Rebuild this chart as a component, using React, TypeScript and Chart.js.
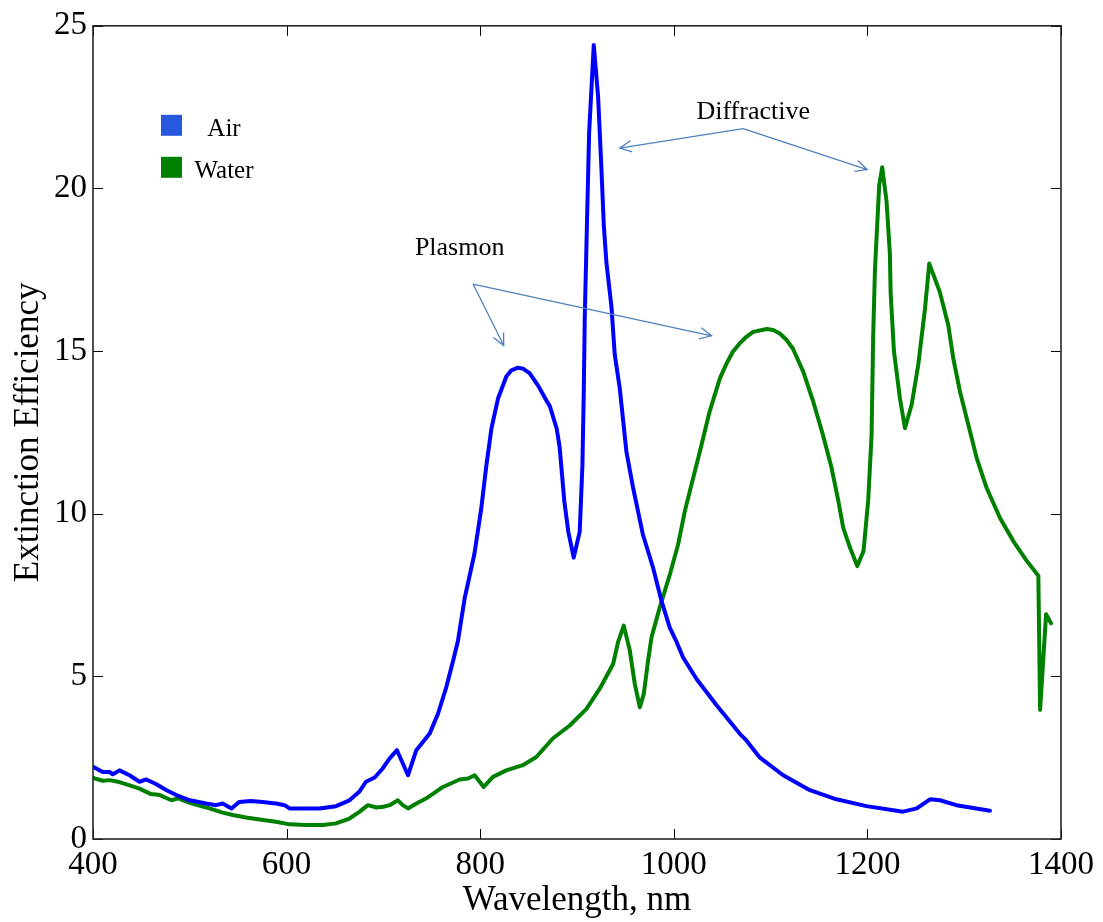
import { useEffect, useRef } from "react";
import { Chart, registerables } from "chart.js";

Chart.register(...registerables);

// Extinction spectrum of the array in air (nm, efficiency)
const airWavelength = [
  400, 410, 417, 420.5, 427.4, 437.7, 448, 455, 465, 476, 486, 500, 517, 527, 534, 543, 551, 563, 575, 589,
  598, 603, 620, 634, 651, 665, 675, 682, 691, 699, 706.5, 714, 718.6, 725.4, 734, 747.8, 756.4, 765, 772, 777,
  784, 794, 801, 806.4, 811.6, 818.4, 827, 832.2, 839, 844.2, 851, 860, 868.4, 872, 879, 882, 887, 891, 896.6, 902.8, 905.6,
  907, 908, 909.8, 912.5, 917.3, 921.8, 925.3, 927.7, 930.4, 935.6, 939, 944.2, 951, 958, 968, 978.6, 987.3,
  995.8, 1003, 1009.6, 1023.5, 1044, 1068, 1075, 1089, 1113, 1140.6, 1168, 1199, 1237, 1251, 1264.6, 1275,
  1292, 1326.6,
];
const airEfficiency = [
  2.22, 2.06, 2.06, 1.99, 2.11, 1.96, 1.76, 1.83, 1.69, 1.5, 1.35, 1.19, 1.09, 1.04, 1.09, 0.94, 1.14, 1.17, 1.14, 1.09,
  1.04, 0.94, 0.94, 0.94, 1.01, 1.19, 1.45, 1.76, 1.89, 2.16, 2.48, 2.73, 2.42, 1.96, 2.73, 3.24, 3.85, 4.67, 5.48, 6.09,
  7.41, 8.76, 10.14, 11.49, 12.62, 13.54, 14.22, 14.41, 14.49, 14.46, 14.32, 13.93, 13.48, 13.3, 12.62, 12.06, 10.36, 9.45, 8.65, 9.45, 11.49,
  13.76, 16.02, 18.29, 21.69, 24.41, 22.82, 20.56, 18.86, 17.72, 16.36, 14.89, 13.85, 11.92, 10.79, 9.37, 8.34, 7.32,
  6.5, 6.05, 5.58, 4.92, 4.12, 3.24, 3.03, 2.5, 1.96, 1.5, 1.22, 1.01, 0.84, 0.94, 1.22, 1.19,
  1.04, 0.87,
];

// Extinction spectrum of the array in water (nm, efficiency)
const waterWavelength = [
  400, 410, 417, 427, 438, 448, 460, 469, 481, 488, 500, 517, 534, 544.5, 558, 572, 589, 603, 620, 637.5,
  651, 665, 675.5, 684, 692.7, 700, 706.5, 715, 720, 725.4, 734, 744.4, 761.5, 778.8, 787.4, 794.3, 803.6, 813.2,
  827, 844, 858, 875, 892.5, 909.8, 923.5, 937.3, 942.4, 948.3, 954.5, 959.7, 964.9, 969, 973.4, 977, 985.5,
  996, 1004.5, 1011.4, 1018.3, 1027, 1037, 1047.6, 1054.5, 1061, 1068.2, 1075, 1082, 1096, 1102.6, 1109.6, 1116.5,
  1123, 1133.7, 1144, 1154, 1163,
  1170, 1175, 1182, 1189.5, 1196, 1200.8, 1204.3, 1206, 1207.8, 1212.2, 1215.3, 1219.8, 1223.2, 1224, 1227.4,
  1233.6, 1238.8, 1245.7, 1252.5, 1259.5, 1263.9, 1274.8, 1283.5, 1288.7, 1295.6, 1302.5, 1312.9, 1323.2, 1337,
  1350.7, 1364.6, 1376.6, 1378.4, 1384.6, 1389.7,
];
const waterEfficiency = [
  1.88, 1.79, 1.81, 1.75, 1.65, 1.55, 1.38, 1.35, 1.19, 1.25, 1.11, 0.97, 0.81, 0.74, 0.66, 0.6, 0.53, 0.45, 0.43, 0.43,
  0.48, 0.63, 0.84, 1.04, 0.97, 0.99, 1.04, 1.19, 1.04, 0.94, 1.09, 1.25, 1.6, 1.83, 1.86, 1.96, 1.6, 1.91,
  2.11, 2.27, 2.52, 3.09, 3.49, 4.0, 4.62, 5.38, 6.05, 6.56, 5.8, 4.77, 4.05, 4.46, 5.48, 6.2, 7.12,
  8.14, 9.06, 10.08, 10.9, 11.92, 13.14, 14.16, 14.62, 14.98, 15.24, 15.44, 15.59, 15.68, 15.65, 15.54, 15.34,
  15.08, 14.37, 13.45, 12.43, 11.41,
  10.39, 9.57, 8.96, 8.39, 8.85, 10.4, 12.4, 15.5, 17.5, 20.1, 20.65, 19.6, 18.0, 16.8, 15.0,
  13.55, 12.63, 13.35, 14.57, 16.3, 17.69, 16.82, 15.8, 14.78, 13.76, 12.94, 11.71, 10.79, 9.87,
  9.16, 8.55, 8.09, 3.97, 6.91, 6.63,
];

const xTickValues = [400, 600, 800, 1000, 1200, 1400];
const yTickValues = [0, 5, 10, 15, 20, 25];
const seriesNames = ["Air", "Water"];

const lineColors = ["#0000ff", "#008000"];
const swatchColors = ["#2659e0", "#008000"];
const arrowColor = "#4f81bd";
const serif = "'Liberation Serif', 'Times New Roman', serif";

// Callout labels with the data points their arrows start from and point to
const callouts = [
  { text: "Diffractive", at: [1082, 22.15], from: [1071.6, 21.84], to: [[944.2, 21.24], [1199.8, 20.58]] },
  { text: "Plasmon", at: [778.8, 17.96], from: [792.6, 17.06], to: [[824.3, 15.17], [1039, 15.47]] },
];

const framePlugin = {
  id: "frameTicksLegendCallouts",
  afterDraw(chart: any) {
    const { ctx, chartArea: ca, scales } = chart;
    const xs = scales.x;
    const ys = scales.y;
    ctx.save();

    // Inward tick marks on all four sides
    const tl = 10;
    ctx.strokeStyle = "#000";
    ctx.lineWidth = 1;
    ctx.beginPath();
    for (const v of xTickValues) {
      const px = Math.round(xs.getPixelForValue(v)) + 0.5;
      ctx.moveTo(px, ca.bottom);
      ctx.lineTo(px, ca.bottom - tl);
      ctx.moveTo(px, ca.top);
      ctx.lineTo(px, ca.top + tl);
    }
    for (const v of yTickValues) {
      const py = Math.round(ys.getPixelForValue(v)) + 0.5;
      ctx.moveTo(ca.left, py);
      ctx.lineTo(ca.left + tl, py);
      ctx.moveTo(ca.right, py);
      ctx.lineTo(ca.right - tl, py);
    }
    ctx.stroke();

    // Axes box
    ctx.strokeStyle = "#262626";
    ctx.lineWidth = 1.6;
    ctx.strokeRect(ca.left, ca.top, ca.right - ca.left, ca.bottom - ca.top);

    // Legend inside the plot
    ctx.font = `25px ${serif}`;
    ctx.textAlign = "center";
    ctx.textBaseline = "alphabetic";
    seriesNames.forEach((name, i) => {
      const top = ca.top + 89 + i * 42;
      ctx.fillStyle = swatchColors[i];
      ctx.fillRect(ca.left + 68, top, 21, 21);
      ctx.fillStyle = "#000";
      ctx.fillText(name, ca.left + 131, top + 21);
    });

    // Callouts with open arrowheads
    ctx.font = `26px ${serif}`;
    ctx.textAlign = "center";
    for (const c of callouts) {
      ctx.fillStyle = "#000";
      ctx.fillText(c.text, xs.getPixelForValue(c.at[0]), ys.getPixelForValue(c.at[1]));
      const fx = xs.getPixelForValue(c.from[0]);
      const fy = ys.getPixelForValue(c.from[1]);
      ctx.strokeStyle = arrowColor;
      ctx.lineWidth = 1.3;
      for (const t of c.to) {
        const tx = xs.getPixelForValue(t[0]);
        const ty = ys.getPixelForValue(t[1]);
        const ang = Math.atan2(ty - fy, tx - fx);
        const hl = 13;
        const spread = 0.45;
        ctx.beginPath();
        ctx.moveTo(fx, fy);
        ctx.lineTo(tx, ty);
        ctx.moveTo(tx - hl * Math.cos(ang - spread), ty - hl * Math.sin(ang - spread));
        ctx.lineTo(tx, ty);
        ctx.lineTo(tx - hl * Math.cos(ang + spread), ty - hl * Math.sin(ang + spread));
        ctx.stroke();
      }
    }
    ctx.restore();
  },
};

export default function App() {
  const canvasRef = useRef<HTMLCanvasElement | null>(null);

  useEffect(() => {
    if (!canvasRef.current) return;
    const chart = new Chart(canvasRef.current, {
      type: "line",
      data: {
        datasets: [
          {
            label: seriesNames[0],
            data: airWavelength.map((x, i) => ({ x, y: airEfficiency[i] })),
            borderColor: lineColors[0],
            borderWidth: 4,
            pointRadius: 0,
            tension: 0,
            borderJoinStyle: "round",
            borderCapStyle: "round",
            fill: false,
          },
          {
            label: seriesNames[1],
            data: waterWavelength.map((x, i) => ({ x, y: waterEfficiency[i] })),
            borderColor: lineColors[1],
            borderWidth: 4,
            pointRadius: 0,
            tension: 0,
            borderJoinStyle: "round",
            borderCapStyle: "round",
            fill: false,
          },
        ],
      },
      options: {
        animation: false,
        responsive: true,
        maintainAspectRatio: false,
        layout: { padding: { top: 23, right: 42, left: 0, bottom: 0 } },
        plugins: { legend: { display: false }, tooltip: { enabled: false } },
        scales: {
          x: {
            type: "linear",
            min: 400,
            max: 1400,
            afterBuildTicks: (s: any) => {
              s.ticks = xTickValues.map((v) => ({ value: v }));
            },
            afterFit: (s: any) => {
              s.height = 83;
            },
            ticks: {
              font: { family: serif, size: 33 },
              color: "#000",
              padding: 7,
              maxRotation: 0,
              autoSkip: false,
              callback: (v: any) => String(v),
            },
            grid: { display: false, drawTicks: false },
            border: { display: false },
            title: {
              display: true,
              text: "Wavelength, nm",
              font: { family: serif, size: 35 },
              color: "#000",
              padding: { top: 0, bottom: 0 },
            },
          },
          y: {
            type: "linear",
            min: 0,
            max: 25,
            afterBuildTicks: (s: any) => {
              s.ticks = yTickValues.map((v) => ({ value: v }));
            },
            afterFit: (s: any) => {
              s.width = 93;
            },
            ticks: {
              font: { family: serif, size: 33 },
              color: "#000",
              padding: 6,
              autoSkip: false,
              callback: (v: any) => String(v),
            },
            grid: { display: false, drawTicks: false },
            border: { display: false },
            title: {
              display: true,
              text: "Extinction Efficiency",
              font: { family: serif, size: 35 },
              color: "#000",
              padding: { top: 8, bottom: 0 },
            },
          },
        },
      },
      plugins: [framePlugin],
    });
    return () => chart.destroy();
  }, []);

  return (
    <div style={{ position: "absolute", left: 0, top: 0, width: 1103, height: 922, background: "#fff" }}>
      <canvas ref={canvasRef} />
    </div>
  );
}
